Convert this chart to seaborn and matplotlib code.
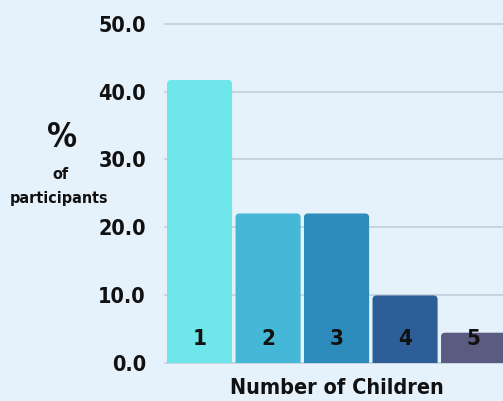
import matplotlib
matplotlib.use("Agg")
import matplotlib.pyplot as plt
import seaborn as sns
import pandas as pd
from matplotlib.patches import FancyBboxPatch

children = ["1", "2", "3", "4", "5"]
percent = [41.7, 22.0, 22.0, 9.9, 4.4]
bar_colors = ["#6ee6ea", "#44b8d6", "#2d8cbb", "#2d5e98", "#5a5b80"]
yticks = [0, 10, 20, 30, 40, 50]
ytick_labels = ["0.0", "10.0", "20.0", "30.0", "40.0", "50.0"]

sns.set_theme(style="white")
BG = "#e5f2fc"
INK = "#111111"
plt.rcParams["font.family"] = ["DejaVu Sans"]
FS = dict(fontweight="bold", fontstretch="condensed", color=INK)

df = pd.DataFrame({"children": children, "percent": percent})

fig = plt.figure(figsize=(5.03, 4.01), dpi=100, facecolor=BG)
ax = fig.add_axes([0.3286, 0.096, 0.681, 0.87])
ax.set_facecolor(BG)

sns.barplot(data=df, x="children", y="percent", hue="children", palette=bar_colors,
            width=0.95, legend=False, ax=ax, zorder=3, saturation=1, linewidth=0)

YMAX = 51.5
ax.set_ylim(0, YMAX)
ax.set_xlim(-0.5, 4.5)

# rounded top corners
x_per_px = 5.0 / (0.681 * 503)
y_per_px = YMAX / (0.87 * 401)
aspect = y_per_px / x_per_px
for p in list(ax.patches):
    x, w, h = p.get_x(), p.get_width(), p.get_height()
    fc = p.get_facecolor()
    rp = FancyBboxPatch((x, -2), w, h + 2,
                        boxstyle=f"round,pad=0,rounding_size={4 * x_per_px}",
                        mutation_aspect=aspect, facecolor=fc, edgecolor="none",
                        linewidth=0, zorder=3)
    p.set_visible(False)
    ax.add_patch(rp)

ax.set_yticks(yticks)
ax.set_yticklabels(ytick_labels)
for g in yticks:
    ax.axhline(g, color="#c2cdd8", lw=1.2, zorder=1, clip_on=False)

for sp in ax.spines.values():
    sp.set_visible(False)
ax.tick_params(axis="both", length=0, pad=14)
for lab in ax.get_yticklabels():
    lab.set_fontweight("bold")
    lab.set_fontstretch("condensed")
    lab.set_fontsize(15.5)
    lab.set_color(INK)
ax.set_xticks(range(len(children)))
ax.set_xticklabels([])
ax.set_xlabel("")
ax.set_ylabel("")

for i, c in enumerate(children):
    ax.text(i, 3.5, c, ha="center", va="center", fontsize=16, zorder=4, **FS)

fig.text(0.6705, 0.032, "Number of Children", ha="center", va="center", fontsize=15.5, **FS)
fig.text(0.123, 0.658, "%", ha="center", va="center", fontsize=24, **FS)
fig.text(0.120, 0.566, "of", ha="center", va="center", fontsize=11.5, **FS)
fig.text(0.117, 0.504, "participants", ha="center", va="center", fontsize=11.5, **FS)

fig.savefig("out.png", dpi=100, facecolor=BG)
